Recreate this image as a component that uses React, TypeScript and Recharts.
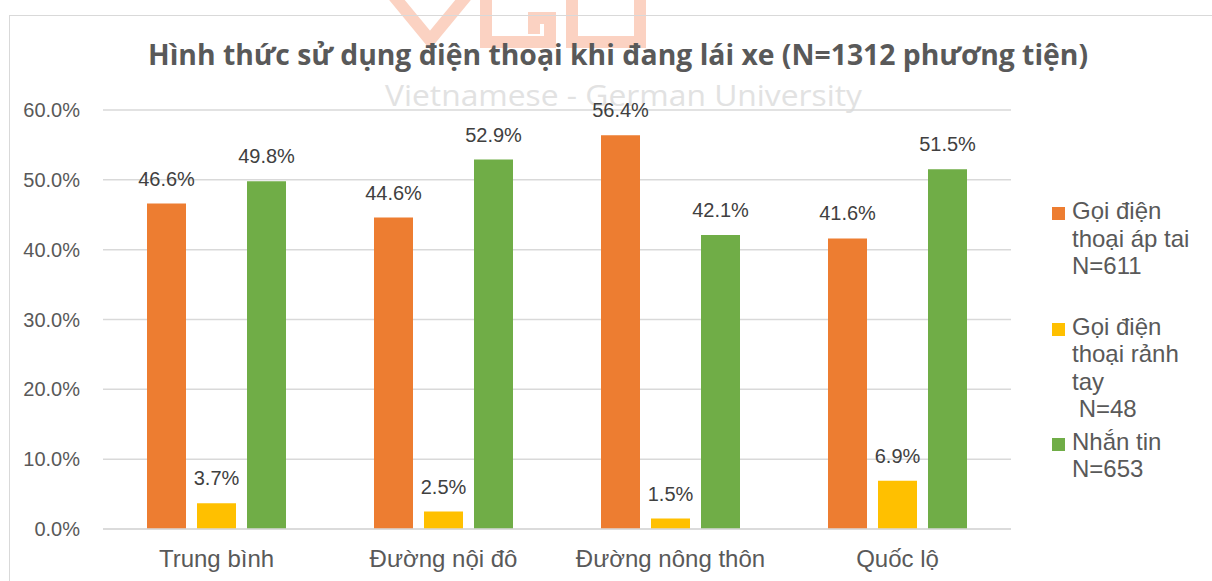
import React from 'react';
import { BarChart, Bar, XAxis, YAxis, CartesianGrid, Legend, LabelList } from 'recharts';

const categories = ['Trung bình', 'Đường nội đô', 'Đường nông thôn', 'Quốc lộ'];
const goiApTai = [46.6, 44.6, 56.4, 41.6];
const goiRanhTay = [3.7, 2.5, 1.5, 6.9];
const nhanTin = [49.8, 52.9, 42.1, 51.5];
const yTicks = [0, 10, 20, 30, 40, 50, 60];

const seriesOrder = ['apTai', 'ranhTay', 'nhanTin'];
const legendLines: Record<string, string[]> = {
  apTai: ['Gọi điện', 'thoại áp tai', 'N=611'],
  ranhTay: ['Gọi điện', 'thoại rảnh', 'tay', '\u00a0N=48'],
  nhanTin: ['Nhắn tin', 'N=653'],
};

const title = 'Hình thức sử dụng điện thoại khi đang lái xe (N=1312 phương tiện)';
const watermark = 'Vietnamese - German University';

const data = categories.map((name, i) => ({
  name,
  apTai: goiApTai[i],
  ranhTay: goiRanhTay[i],
  nhanTin: nhanTin[i],
}));

const FONT = '"Liberation Sans", Arial, sans-serif';
const pct = (v: number) => `${Number(v).toFixed(1)}%`;

const itemGaps = [0, 33, 5];

const LegendBox = (props: any) => {
  const payload = [...(props.payload || [])].sort(
    (a: any, b: any) => seriesOrder.indexOf(a.dataKey) - seriesOrder.indexOf(b.dataKey)
  );
  return (
    <div style={{ fontFamily: FONT, fontSize: 24, lineHeight: '27.5px', color: '#595959' }}>
      {payload.map((entry: any, i: number) => (
        <div key={entry.dataKey} style={{ position: 'relative', paddingLeft: 27, marginTop: itemGaps[i] }}>
          <span
            style={{
              position: 'absolute',
              left: 7,
              top: 10,
              width: 13,
              height: 13,
              background: entry.color,
            }}
          />
          {(legendLines[entry.dataKey] || [entry.value]).map((l) => (
            <div key={l} style={{ whiteSpace: 'pre' }}>{l}</div>
          ))}
        </div>
      ))}
    </div>
  );
};

const App: React.FC = () => {
  return (
    <div
      style={{
        position: 'absolute',
        left: 0,
        top: 0,
        width: 1212,
        height: 581,
        overflow: 'hidden',
        background: '#fff',
        fontFamily: FONT,
      }}
    >
      <svg width={1212} height={581} style={{ position: 'absolute', left: 0, top: 0 }}>
        <g fill="none" stroke="#fbd2c2" strokeWidth={12}>
          <path d="M 392 -6 L 430 40 L 468 -6" />
          <path d="M 486 -6 L 486 42 L 550 42 L 550 18 L 534 18 L 534 34" />
          <path d="M 572 -6 L 572 42 L 640 42 L 640 -6" />
        </g>
        <text
          x={385}
          y={106}
          fontFamily='"Open Sans", sans-serif'
          fontSize={29}
          fill="#e2e2e2"
          textLength={477}
          lengthAdjust="spacingAndGlyphs"
        >
          {watermark}
        </text>
        <text
          x={148}
          y={65}
          fontFamily='"Open Sans", sans-serif'
          fontWeight="bold"
          fontSize={28}
          fill="#595959"
          textLength={940}
          lengthAdjust="spacingAndGlyphs"
        >
          {title}
        </text>
      </svg>
      <div
        style={{
          position: 'absolute',
          left: 9,
          top: 15,
          width: 1240,
          height: 600,
          border: '1.5px solid #d9d9d9',
        }}
      />
      <div style={{ position: 'absolute', left: 0, top: 0 }}>
        <BarChart
          width={1212}
          height={581}
          data={data}
          margin={{ top: 110, right: 201, left: 0, bottom: 0 }}
          barCategoryGap={44}
          barGap={11}
        >
          <CartesianGrid vertical={false} stroke="#d9d9d9" strokeWidth={1.5} />
          <XAxis
            dataKey="name"
            height={52}
            tickLine={false}
            axisLine={{ stroke: '#d9d9d9', strokeWidth: 1.5 }}
            tickMargin={15}
            tick={{ fill: '#595959', fontSize: 24, fontFamily: FONT }}
          />
          <YAxis
            width={103}
            domain={[0, 60]}
            ticks={yTicks}
            tickFormatter={pct}
            axisLine={false}
            tickLine={false}
            tickMargin={17}
            tick={{ fill: '#595959', fontSize: 20, fontFamily: FONT }}
          />
          <Legend
            layout="vertical"
            align="center"
            verticalAlign="middle"
            wrapperStyle={{ left: 1045, top: 197, width: 167 }}
            content={<LegendBox />}
          />
          <Bar dataKey="apTai" name="Gọi điện thoại áp tai N=611" fill="#ED7D31" isAnimationActive={false}>
            <LabelList dataKey="apTai" position="top" offset={18} formatter={pct} fill="#404040" fontSize={20} fontFamily={FONT} />
          </Bar>
          <Bar dataKey="ranhTay" name="Gọi điện thoại rảnh tay N=48" fill="#FFC000" isAnimationActive={false}>
            <LabelList dataKey="ranhTay" position="top" offset={18} formatter={pct} fill="#404040" fontSize={20} fontFamily={FONT} />
          </Bar>
          <Bar dataKey="nhanTin" name="Nhắn tin N=653" fill="#70AD47" isAnimationActive={false}>
            <LabelList dataKey="nhanTin" position="top" offset={18} formatter={pct} fill="#404040" fontSize={20} fontFamily={FONT} />
          </Bar>
        </BarChart>
      </div>
    </div>
  );
};

export default App;
